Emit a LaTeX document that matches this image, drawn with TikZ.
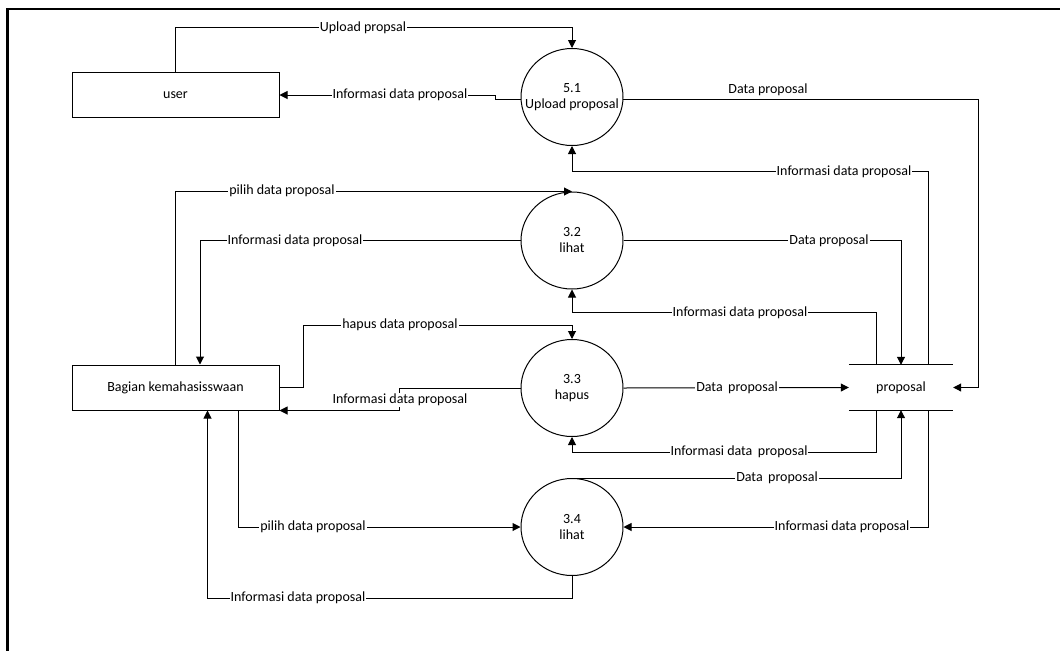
\documentclass[tikz,border=0pt]{standalone}
\usepackage{fontspec}
\setmainfont{Carlito}
\usetikzlibrary{arrows.meta,shapes.geometric}

\begin{document}
\begin{tikzpicture}[
  x=1pt, y=-1pt,
  font=\fontsize{14}{16}\selectfont,
  flow/.style={line width=1pt, -{Triangle[length=8pt,width=8pt]}},
  plain/.style={line width=1pt},
  entity/.style={draw, line width=1pt, rectangle, minimum width=207pt, minimum height=45pt, inner sep=0pt},
  proc/.style={draw, line width=1pt, ellipse, minimum width=102pt, minimum height=97pt, inner xsep=-30pt, inner ysep=-12pt, align=center},
  datastore/.style={rectangle, minimum width=104pt, minimum height=45pt, inner sep=0pt},
  lbl/.style={fill=white, inner xsep=1pt, inner ysep=1pt},
  toplbl/.style={inner sep=1pt}
]
\useasboundingbox (0,0) rectangle (1060,651);

% page frame (top and left edges only)
\draw[line width=2.8pt] (1060,9) -- (7.8,9) -- (7.8,651);

% external entities
\node[entity] (user)   at (175.5,95)    {user};
\node[entity] (bagian) at (175.5,387.5) {Bagian kemahasisswaan};

% processes
\node[proc] (p51) at (572,97)    {5.1\\Upload proposal};
\node[proc] (p32) at (572,240.5) {3.2\\lihat};
\node[proc] (p33) at (572,388)   {3.3\\hapus};
\node[proc] (p34) at (572,527)   {3.4\\lihat};

% data store
\node[datastore] (store) at (901,387.5) {proposal};
\draw[plain] (store.north west) -- (store.north east);
\draw[plain] (store.south west) -- (store.south east);

% user <-> 5.1
\draw[flow] (user.north) -- ++(0,-44.5) -| (p51.north);
\draw[flow] (p51.183) -- ++(-25,0) |- (user.east);
\draw[flow] (p51.357) -| ([xshift=25pt]store.east) -- (store.east);
\draw[flow] ([xshift=27pt]store.north) -- ++(0,-193) -| (p51.south);

% bagian <-> 3.2
\draw[flow] (bagian.north) |- (p32.north);
\draw[flow] (p32.west) -| ([xshift=24.5pt]bagian.north);
\draw[flow] (p32.east) -| (store.north);
\draw[flow] ([xshift=-25pt]store.north) -- ++(0,-52) -| (p32.south);

% bagian <-> 3.3
\draw[flow] (bagian.east) -- ++(24,0) -- ++(0,-62.5) -| (p33.north);
\draw[flow] (p33.west) -- ++(-121,0) |- (bagian.south east);
\draw[flow] (p33.east) -- (store.west);
\draw[flow] ([xshift=-25pt]store.south) -- ++(0,42) -| (p33.south);

% bagian <-> 3.4
\draw[flow] ([xshift=63pt]bagian.south) |- (p34.west);
\draw[flow] (p34.south) -- ++(0,22) -| ([xshift=32pt]bagian.south);
\draw[flow] (p34.north) -| (store.south);
\draw[flow] ([xshift=27pt]store.south) |- (p34.east);

% flow labels
\node[lbl] (l1)  at (363,27.5)  {Upload propsal};
\node[lbl] (l2)  at (400,95)    {Informasi data proposal};
\node[toplbl] (l3) at (768,90)  {Data proposal};
\node[lbl] (l4)  at (844,172)   {Informasi data proposal};
\node[lbl] (l5)  at (282,191)   {pilih data proposal};
\node[lbl] (l6)  at (295,240.5) {Informasi data proposal};
\node[lbl] (l7)  at (829,240.5) {Data proposal};
\node[lbl] (l8)  at (740,313)   {Informasi data proposal};
\node[lbl] (l9)  at (400,325)   {hapus data proposal};
\node[lbl] (l10) at (400,400)   {Informasi data proposal};
\node[lbl] (l11) at (737,388)   {Data\, proposal};
\node[lbl] (l12) at (739,452)   {Informasi data\, proposal};
\node[lbl] (l13) at (777,478)   {Data\, proposal};
\node[lbl] (l14) at (313,527)   {pilih data proposal};
\node[lbl] (l15) at (842,527)   {Informasi data proposal};
\node[lbl] (l16) at (298,598)   {Informasi data proposal};
\end{tikzpicture}
\end{document}
